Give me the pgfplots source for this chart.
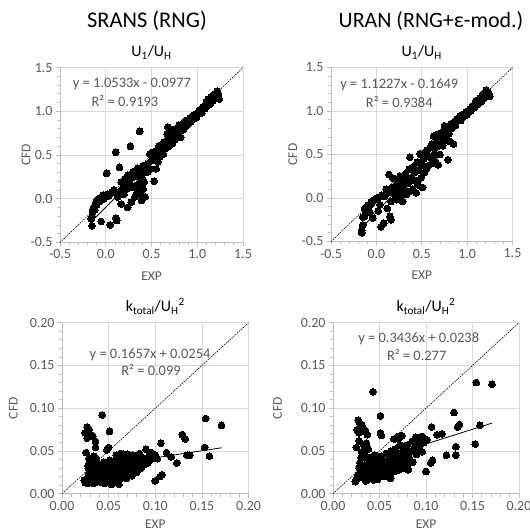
\documentclass[border=0pt]{standalone}
\usepackage{fontspec}
\setmainfont{Carlito}
\usepackage{pgfplots}
\usepackage{pgfplotstable}
\pgfplotsset{compat=1.18}
\definecolor{txt}{HTML}{595959}
\definecolor{gridc}{HTML}{D9D9D9}
\definecolor{axc}{HTML}{BFBFBF}
\tikzset{eq/.style={text=txt, font=\fontsize{14.5}{14.5}\selectfont, anchor=center}}
\pgfplotsset{
  excel/.style={
    scale only axis,
    axis x line*=bottom, axis y line*=left,
    axis line style={draw=axc, line width=0.75bp},
    grid=major, major grid style={draw=gridc, line width=0.75bp},
    tick align=outside, minor tick num=4,
    major tick length=4bp, minor tick length=3bp,
    tick style={draw=axc, line width=0.75bp},
    /pgf/number format/assume math mode=true,
    /pgf/number format/fixed, /pgf/number format/fixed zerofill,
    ticklabel style={font=\fontsize{14}{14}\selectfont, text=txt},
    xlabel={EXP}, ylabel={CFD},
    label style={font=\fontsize{13.5}{13.5}\selectfont, text=txt},
    title style={font=\fontsize{16}{16}\selectfont, anchor=south, at={(axis description cs:0.5,1)}, inner sep=2bp},
    clip=false,
  },
  big/.style={xmin=-0.5,xmax=1.5,ymin=-0.5,ymax=1.5,
    xtick={-0.5,0,0.5,1,1.5}, ytick={-0.5,0,0.5,1,1.5},
    /pgf/number format/precision=1},
  small/.style={xmin=0,xmax=0.2,ymin=0,ymax=0.2,
    xtick={0,0.05,0.1,0.15,0.2}, ytick={0,0.05,0.1,0.15,0.2},
    /pgf/number format/precision=2},
  pts/.style={only marks, mark=*, mark size=3.4bp, mark options={fill=black, draw=black, line width=0pt}},
  one/.style={black, dash pattern=on 1.5bp off 1bp, line width=0.6bp},
  fit/.style={black, line width=0.8bp},
}
\pgfplotstableread{
x y
-0.15 -0.31
-0.16 -0.23
-0.15 -0.20
-0.14 -0.15
-0.14 -0.12
-0.13 -0.10
-0.12 -0.08
-0.12 -0.13
-0.11 -0.05
-0.10 -0.02
-0.10 -0.07
-0.09 -0.01
-0.08 0.00
-0.07 -0.03
-0.06 0.01
-0.05 -0.26
-0.04 0.02
-0.03 0.04
-0.02 0.00
0.00 0.02
0.01 0.29
0.02 0.05
0.03 0.03
0.05 -0.30
0.05 0.06
0.07 0.08
0.09 0.10
0.10 0.07
0.11 -0.22
0.12 -0.25
0.11 0.53
0.13 0.02
0.15 0.36
0.15 0.08
0.17 -0.06
0.17 0.19
0.19 0.13
0.20 0.05
0.21 0.23
0.22 0.16
0.23 0.11
0.24 -0.10
0.24 0.27
0.26 0.21
0.27 0.60
0.28 -0.04
0.29 0.13
0.30 0.31
0.31 0.25
0.32 0.02
0.33 0.15
0.34 0.07
0.35 0.08
0.35 0.35
0.36 0.28
0.37 0.19
0.37 0.32
0.37 0.77
0.38 0.12
0.39 -0.02
0.39 0.04
0.40 0.23
0.41 0.11
0.41 0.38
0.42 0.19
0.43 0.02
0.44 0.30
0.46 0.31
0.46 0.40
0.48 0.51
0.49 0.34
0.50 0.44
0.52 0.53
0.53 0.20
0.54 0.47
0.55 0.34
0.56 0.55
0.57 0.42
0.58 0.60
0.59 0.48
0.60 0.53
0.61 0.59
0.62 0.63
0.63 0.51
0.64 0.65
0.65 0.57
0.66 0.62
0.67 0.74
0.68 0.69
0.68 0.82
0.69 0.60
0.70 0.66
0.71 0.72
0.72 0.79
0.73 0.63
0.74 0.70
0.75 0.67
0.76 0.75
0.77 0.80
0.78 0.72
0.79 0.76
0.80 0.84
0.81 0.78
0.82 0.70
0.83 0.81
0.84 0.86
0.85 0.79
0.86 0.88
0.88 0.83
0.89 0.90
0.90 0.86
0.92 0.92
0.93 0.88
0.95 0.95
0.96 0.91
0.98 0.97
0.99 0.93
1.01 0.98
1.02 1.01
1.04 1.01
1.05 0.98
1.06 1.05
1.08 1.03
1.10 1.11
1.11 1.06
1.12 1.14
1.14 1.08
1.15 1.16
1.17 1.12
1.19 1.20
1.20 1.17
1.22 1.23
1.24 1.14
1.23 1.20
}\tlu
\pgfplotstableread{
x y
-0.16 -0.40
-0.16 -0.37
-0.15 -0.31
-0.15 -0.22
-0.13 -0.21
-0.13 -0.12
-0.12 -0.18
-0.11 -0.17
-0.10 -0.13
-0.09 -0.08
-0.08 -0.10
-0.07 -0.17
-0.06 -0.05
-0.05 -0.06
-0.04 -0.23
-0.03 -0.02
-0.01 -0.02
0.01 0.00
0.02 -0.15
0.03 0.01
0.04 -0.08
0.05 -0.33
0.06 0.03
0.08 -0.29
0.09 0.02
0.10 0.05
0.11 0.10
0.12 -0.12
0.13 0.06
0.14 0.27
0.15 -0.21
0.16 -0.25
0.16 -0.04
0.17 0.12
0.18 0.23
0.19 0.08
0.20 0.13
0.21 0.03
0.22 -0.02
0.23 0.19
0.24 0.08
0.25 0.15
0.26 0.25
0.27 0.02
0.28 0.10
0.29 -0.04
0.30 0.18
0.31 0.10
0.32 0.28
0.33 0.04
0.34 0.21
0.35 0.17
0.36 0.33
0.37 0.47
0.38 0.08
0.38 0.23
0.40 0.10
0.41 0.36
0.42 0.29
0.43 0.20
0.44 0.06
0.45 0.41
0.46 0.15
0.47 0.32
0.48 0.51
0.49 0.23
0.50 0.38
0.51 0.12
0.52 0.45
0.53 0.29
0.53 0.52
0.55 0.34
0.56 0.55
0.57 0.37
0.58 0.48
0.59 0.58
0.60 0.46
0.61 0.62
0.62 0.40
0.63 0.71
0.64 0.57
0.65 0.42
0.65 0.50
0.66 0.64
0.67 0.73
0.68 0.67
0.68 0.38
0.69 0.60
0.70 0.50
0.71 0.75
0.72 0.69
0.73 0.60
0.74 0.77
0.75 0.83
0.76 0.72
0.77 0.71
0.78 0.66
0.79 0.79
0.79 0.44
0.80 0.74
0.81 0.65
0.82 0.85
0.83 0.80
0.85 0.62
0.86 0.88
0.87 0.83
0.89 0.91
0.90 0.90
0.92 0.94
0.93 0.89
0.95 0.96
0.97 0.94
0.99 0.99
1.00 0.96
1.03 1.02
1.04 1.00
1.06 1.06
1.08 1.04
1.10 1.12
1.12 1.08
1.14 1.15
1.16 1.11
1.17 1.19
1.19 1.15
1.21 1.24
1.23 1.22
1.25 1.17
}\tru
\pgfplotstableread{
x y
0.043 0.092
0.154 0.088
0.171 0.080
0.129 0.069
0.132 0.064
0.153 0.054
0.158 0.044
0.134 0.045
0.137 0.045
0.123 0.036
0.117 0.043
0.112 0.048
0.106 0.059
0.107 0.022
0.105 0.020
0.100 0.015
0.097 0.047
0.090 0.052
0.084 0.045
0.051 0.073
0.050 0.054
0.048 0.051
0.027 0.078
0.029 0.075
0.031 0.069
0.033 0.067
0.036 0.061
0.036 0.054
0.025 0.071
0.027 0.065
0.026 0.048
0.029 0.041
0.061 0.011
0.025 0.013
0.024 0.016
0.027 0.012
0.028 0.020
0.029 0.025
0.030 0.030
0.030 0.035
0.031 0.015
0.032 0.022
0.033 0.028
0.033 0.038
0.034 0.012
0.035 0.018
0.035 0.032
0.036 0.025
0.037 0.041
0.038 0.014
0.038 0.021
0.039 0.030
0.040 0.035
0.041 0.018
0.042 0.024
0.043 0.013
0.044 0.029
0.045 0.037
0.046 0.021
0.047 0.016
0.048 0.033
0.049 0.026
0.050 0.019
0.051 0.039
0.052 0.023
0.053 0.030
0.054 0.015
0.055 0.035
0.056 0.027
0.057 0.020
0.058 0.040
0.059 0.031
0.060 0.024
0.061 0.036
0.062 0.017
0.063 0.029
0.064 0.042
0.065 0.022
0.066 0.033
0.067 0.027
0.068 0.038
0.069 0.018
0.070 0.046
0.071 0.031
0.072 0.024
0.073 0.040
0.074 0.034
0.075 0.021
0.076 0.045
0.077 0.028
0.078 0.036
0.079 0.043
0.080 0.025
0.081 0.032
0.082 0.040
0.083 0.047
0.085 0.030
0.086 0.037
0.087 0.042
0.088 0.034
0.090 0.040
0.092 0.036
0.093 0.044
0.095 0.040
0.096 0.048
0.098 0.043
0.100 0.045
0.102 0.041
0.058 0.045
0.063 0.047
0.066 0.046
0.060 0.013
0.053 0.011
0.046 0.012
0.040 0.016
0.028 0.033
0.031 0.038
0.034 0.044
0.029 0.028
0.032 0.017
}\blk
\pgfplotstableread{
x y
0.043 0.119
0.154 0.130
0.171 0.128
0.130 0.095
0.158 0.080
0.134 0.078
0.136 0.081
0.153 0.058
0.132 0.055
0.132 0.045
0.122 0.045
0.117 0.070
0.112 0.069
0.106 0.078
0.105 0.036
0.107 0.039
0.100 0.026
0.051 0.091
0.052 0.068
0.051 0.071
0.027 0.086
0.029 0.082
0.031 0.080
0.032 0.077
0.026 0.075
0.028 0.071
0.035 0.073
0.037 0.069
0.036 0.059
0.025 0.054
0.031 0.049
0.092 0.061
0.085 0.061
0.080 0.057
0.076 0.055
0.071 0.065
0.074 0.068
0.089 0.066
0.096 0.067
0.101 0.063
0.081 0.047
0.087 0.049
0.062 0.018
0.081 0.028
0.025 0.016
0.026 0.018
0.024 0.014
0.027 0.022
0.028 0.030
0.029 0.036
0.030 0.042
0.031 0.019
0.032 0.026
0.033 0.033
0.034 0.046
0.035 0.021
0.036 0.029
0.037 0.038
0.038 0.017
0.039 0.025
0.040 0.034
0.041 0.043
0.042 0.020
0.043 0.028
0.044 0.037
0.045 0.045
0.046 0.024
0.047 0.031
0.048 0.019
0.049 0.040
0.050 0.027
0.051 0.035
0.052 0.044
0.053 0.022
0.054 0.031
0.055 0.038
0.056 0.026
0.057 0.047
0.058 0.034
0.059 0.029
0.060 0.041
0.061 0.022
0.062 0.050
0.063 0.036
0.064 0.030
0.065 0.044
0.066 0.026
0.067 0.052
0.068 0.039
0.069 0.033
0.070 0.047
0.071 0.028
0.072 0.057
0.073 0.041
0.074 0.035
0.075 0.050
0.076 0.030
0.077 0.044
0.078 0.038
0.079 0.053
0.080 0.033
0.082 0.042
0.084 0.050
0.086 0.037
0.088 0.055
0.090 0.046
0.092 0.052
0.094 0.057
0.096 0.049
0.098 0.060
0.066 0.064
0.070 0.067
0.028 0.062
0.033 0.057
0.038 0.052
0.048 0.017
0.056 0.020
0.044 0.016
0.035 0.015
}\brk
\begin{document}
\begin{tikzpicture}
\useasboundingbox (0bp,0bp) rectangle (530bp,532bp);
\node[font=\fontsize{22.5}{22.5}\selectfont, anchor=center] at (147bp,511bp) {SRANS (RNG)};
\node[font=\fontsize{22}{22}\selectfont, anchor=center] at (431bp,511bp) {URAN (RNG+ε-mod.)};
% top left
\begin{axis}[excel, big, at={(60bp,289.6bp)}, anchor=south west, width=183bp, height=174.8bp,
  title={U\textsubscript{1}/U\textsubscript{H}},
  xlabel style={at={(axis description cs:0.5,-0.192)}, anchor=center},
  ylabel style={at={(axis description cs:-0.186,0.5)}, anchor=center}]
\addplot[one] coordinates {(-0.5,-0.5) (1.5,1.5)};
\addplot[pts] table[x=x,y=y] {\tlu};
\addplot[fit] coordinates {(-0.15,-0.2557) (1.24,1.2084)};
\node[eq] at (axis description cs:0.393,0.906) {y = 1.0533x - 0.0977};
\node[eq] at (axis description cs:0.355,0.809) {R² = 0.9193};
\end{axis}
% top right
\begin{axis}[excel, big, at={(331bp,290.5bp)}, anchor=south west, width=181.5bp, height=174bp,
  title={U\textsubscript{1}/U\textsubscript{H}},
  xlabel style={at={(axis description cs:0.5,-0.192)}, anchor=center},
  ylabel style={at={(axis description cs:-0.21,0.5)}, anchor=center}]
\addplot[one] coordinates {(-0.5,-0.5) (1.5,1.5)};
\addplot[pts] table[x=x,y=y] {\tru};
\addplot[fit] coordinates {(-0.16,-0.3445) (1.25,1.2385)};
\node[eq] at (axis description cs:0.376,0.90) {y = 1.1227x - 0.1649};
\node[eq] at (axis description cs:0.376,0.804) {R² = 0.9384};
\end{axis}
% bottom left
\begin{axis}[excel, small, at={(62bp,38.3bp)}, anchor=south west, width=186.6bp, height=171bp,
  title={k\textsubscript{total}/U\textsubscript{H}\textsuperscript{2}},
  xlabel style={at={(axis description cs:0.5,-0.176)}, anchor=center},
  ylabel style={at={(axis description cs:-0.261,0.5)}, anchor=center}]
\addplot[one] coordinates {(0,0) (0.2,0.2)};
\addplot[pts] table[x=x,y=y] {\blk};
\addplot[fit] coordinates {(0.024,0.0294) (0.171,0.0537)};
\node[eq] at (axis description cs:0.472,0.815) {y = 0.1657x + 0.0254};
\node[eq] at (axis description cs:0.477,0.723) {R² = 0.099};
\end{axis}
% bottom right
\begin{axis}[excel, small, at={(333bp,38.3bp)}, anchor=south west, width=186bp, height=171bp,
  title={k\textsubscript{total}/U\textsubscript{H}\textsuperscript{2}},
  xlabel style={at={(axis description cs:0.5,-0.176)}, anchor=center},
  ylabel style={at={(axis description cs:-0.298,0.5)}, anchor=center}]
\addplot[one] coordinates {(0,0) (0.2,0.2)};
\addplot[pts] table[x=x,y=y] {\brk};
\addplot[fit] coordinates {(0.024,0.0320) (0.171,0.0826)};
\node[eq] at (axis description cs:0.461,0.906) {y = 0.3436x + 0.0238};
\node[eq] at (axis description cs:0.45,0.809) {R² = 0.277};
\end{axis}
\end{tikzpicture}
\end{document}
